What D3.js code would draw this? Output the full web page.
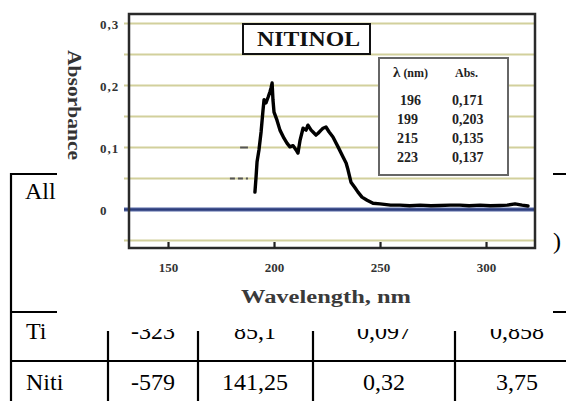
<!DOCTYPE html>
<html><head><meta charset="utf-8">
<script src="https://cdn.jsdelivr.net/npm/d3@7"></script>
<style>html,body{margin:0;padding:0;background:#fff;}svg{display:block;} svg text{font-family:"Liberation Serif","Times New Roman",serif;}</style>
</head><body>
<svg id="c" width="566" height="401"></svg>
<script>
// ---- data ----
const wavelengths = [191.0,191.5,192.0,192.9,193.9,194.8,195.3,196.2,197.2,198.1,198.6,199.1,199.5,200.0,201.4,202.8,204.7,206.1,207.5,209.0,210.4,211.3,212.3,213.7,215.1,216.0,217.5,218.4,219.8,220.8,222.2,223.1,224.5,226.0,227.8,230.2,232.5,234.0,234.9,236.3,238.2,239.6,241.5,243.9,246.7,250.0,255.0,259.4,264.0,268.9,274.0,278.3,283.0,287.7,292.0,297.2,302.0,306.6,310.0,313.7,317.0,319.8];
const absorbance  = [0.028,0.051,0.077,0.096,0.125,0.160,0.177,0.172,0.181,0.190,0.196,0.204,0.177,0.157,0.144,0.128,0.115,0.107,0.101,0.103,0.096,0.091,0.112,0.131,0.128,0.136,0.128,0.125,0.120,0.123,0.128,0.131,0.133,0.125,0.117,0.101,0.085,0.075,0.064,0.044,0.035,0.028,0.020,0.015,0.010,0.009,0.007,0.007,0.006,0.007,0.006,0.0065,0.007,0.007,0.006,0.007,0.006,0.0065,0.007,0.009,0.007,0.0056];
const strayMarks = [{from:179.2, to:187.7, a:0.05, dash:"5,3"}, {from:184.0, to:187.7, a:0.1, dash:null}];
const xTicks = [150, 200, 250, 300];
const yLabelTicks = [0, 0.1, 0.2, 0.3];
const yGrid = [-0.05, 0.05, 0.1, 0.15, 0.2, 0.25, 0.3];
const peakLambda = ["196", "199", "215", "223"];
const peakAbs = ["0,171", "0,203", "0,135", "0,137"];
const chartTitle = "NITINOL";
const xTitle = "Wavelength, nm";
const yTitle = "Absorbance";
const tableRows = [["Ti","-323","85,1","0,097","0,858"],["Niti","-579","141,25","0,32","3,75"]];
const headerLeft = "All";
const headerRight = ")";

const svg = d3.select("#c");

// ---- background table ----
const colX = [11, 108, 198, 313, 455];
const colText = [{x:26,a:"start"},{x:153,a:"middle"},{x:255,a:"middle"},{x:384,a:"middle"},{x:517,a:"middle"}];
const tbl = svg.append("g").attr("stroke","#000").attr("stroke-width",2.2);
tbl.append("line").attr("x1",10).attr("x2",566).attr("y1",174).attr("y2",174);
tbl.append("line").attr("x1",10).attr("x2",566).attr("y1",312).attr("y2",312);
tbl.append("line").attr("x1",10).attr("x2",566).attr("y1",361).attr("y2",361);
tbl.append("line").attr("x1",11).attr("x2",11).attr("y1",173).attr("y2",401);
colX.slice(1).forEach(cx=>tbl.append("line").attr("x1",cx).attr("x2",cx).attr("y1",331).attr("y2",401));
const rowBase = [339, 390];
tableRows.forEach((r,i)=>{
  r.forEach((t,j)=>{
    svg.append("text").attr("x",colText[j].x).attr("y",rowBase[i]).attr("text-anchor",colText[j].a)
      .attr("font-size",24).attr("fill","#000").text(t);
  });
});
svg.append("text").attr("x",25).attr("y",199).attr("font-size",24).text(headerLeft);
svg.append("text").attr("x",553).attr("y",249).attr("font-size",24).text(headerRight);

// ---- overlaid chart image area ----
svg.append("rect").attr("x",57).attr("y",0).attr("width",496).attr("height",329).attr("fill","#fff");

const x = d3.scaleLinear().domain([131.6, 323.1]).range([129, 535]);
const y = d3.scaleLinear().domain([-0.0621, 0.3153]).range([248, 14]);

// gridlines
svg.append("g").selectAll("line").data(yGrid).join("line")
  .attr("x1",124).attr("x2",535).attr("y1",d=>y(d)).attr("y2",d=>y(d))
  .attr("stroke","#d2d09c").attr("stroke-width",2);

// zero line
svg.append("line").attr("x1",124).attr("x2",535).attr("y1",y(0)).attr("y2",y(0))
  .attr("stroke","#8d9ac4").attr("stroke-width",4.5);
svg.append("line").attr("x1",124).attr("x2",535).attr("y1",y(0)).attr("y2",y(0))
  .attr("stroke","#2c3d7c").attr("stroke-width",2.6);

// stray marks
strayMarks.forEach(m=>{
  svg.append("line").attr("x1",x(m.from)).attr("x2",x(m.to)).attr("y1",y(m.a)).attr("y2",y(m.a))
    .attr("stroke","#555").attr("stroke-width",2).attr("stroke-dasharray",m.dash);
});

// spectrum
const pts = wavelengths.map((w,i)=>[w,absorbance[i]]);
svg.append("path").datum(pts)
  .attr("d", d3.line().x(d=>x(d[0])).y(d=>y(d[1])))
  .attr("fill","none").attr("stroke","#000").attr("stroke-width",3.4)
  .attr("stroke-linejoin","round").attr("stroke-linecap","round");

// frame
svg.append("rect").attr("x",129).attr("y",14).attr("width",406).attr("height",234)
  .attr("fill","none").attr("stroke","#2a2a2a").attr("stroke-width",2.5);

// x axis
const xAxis = svg.append("g").attr("transform","translate(0,248)")
  .call(d3.axisBottom(x).tickValues(xTicks).tickSize(-6).tickPadding(15).tickFormat(d3.format("d")));
xAxis.select(".domain").remove();
xAxis.attr("font-family",null);
xAxis.selectAll(".tick line").attr("stroke","#222").attr("stroke-width",2.2);
xAxis.selectAll(".tick text").attr("font-weight","bold")
  .attr("font-size",13).attr("fill","#333");

// y labels
svg.append("g").selectAll("text").data(yLabelTicks).join("text")
  .attr("x",100).attr("y",d=>y(d)+6)
  .attr("font-weight","bold").attr("font-size",13)
  .attr("letter-spacing",1).attr("fill","#333")
  .text(d=>d===0?"0":d3.format(".1f")(d).replace(".",","));

// titles
svg.append("text").attr("x",326).attr("y",303).attr("text-anchor","middle")
  .attr("font-weight","bold").attr("font-size",18)
  .attr("fill","#3a3a3a").attr("textLength",170).attr("lengthAdjust","spacingAndGlyphs").text(xTitle);
svg.append("text").attr("transform","translate(68,105) rotate(90)").attr("text-anchor","middle")
  .attr("font-weight","bold").attr("font-size",18)
  .attr("fill","#333").attr("textLength",110).attr("lengthAdjust","spacingAndGlyphs").text(yTitle);

// NITINOL box
svg.append("rect").attr("x",243).attr("y",24).attr("width",127).attr("height",30)
  .attr("fill","#fff").attr("stroke","#111").attr("stroke-width",2);
svg.append("text").attr("x",308.5).attr("y",46).attr("text-anchor","middle")
  .attr("font-weight","bold").attr("font-size",20)
  .attr("fill","#111").attr("textLength",103).attr("lengthAdjust","spacingAndGlyphs").text(chartTitle);

// peak box
svg.append("rect").attr("x",379).attr("y",58).attr("width",129).attr("height",117)
  .attr("fill","#fff").attr("stroke","#666").attr("stroke-width",2);
const hdr = svg.append("text").attr("x",393).attr("y",77)
  .attr("font-size",12).attr("font-weight","bold").attr("fill","#222");
hdr.append("tspan").attr("font-size",15).text("λ");
hdr.append("tspan").attr("dx",3).text("(nm)");
svg.append("text").attr("x",455).attr("y",77)
  .attr("font-size",12).attr("font-weight","bold").attr("fill","#222").text("Abs.");
const rowY = d3.scaleLinear().domain([0,3]).range([105,162]);
svg.append("g").selectAll("text").data(peakLambda).join("text")
  .attr("x",(d,i)=>i===0?400:397).attr("y",(d,i)=>rowY(i))
  .attr("font-size",14).attr("font-weight","bold").attr("fill","#222").text(d=>d);
svg.append("g").selectAll("text").data(peakAbs).join("text")
  .attr("x",452).attr("y",(d,i)=>rowY(i))
  .attr("font-size",14).attr("font-weight","bold").attr("fill","#222").text(d=>d);
</script>
</body></html>
